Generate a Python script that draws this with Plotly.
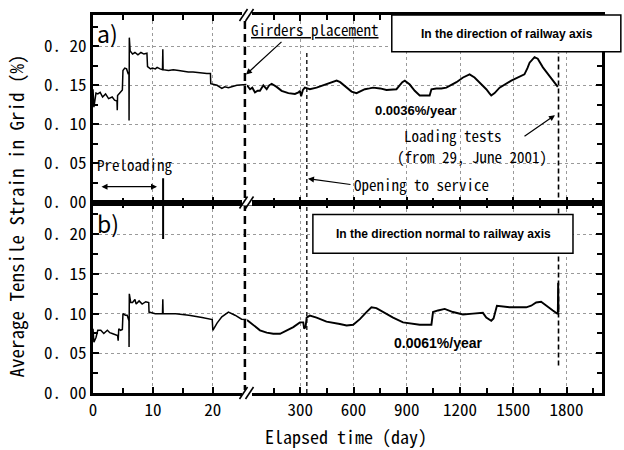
import plotly.graph_objects as go
from plotly.subplots import make_subplots

# ---- (a) strain in the direction of the railway axis ----
# first 25 days (construction / preloading), elapsed time in days
a_days_early = [0, 0.15, 0.5, 0.8, 1.2, 1.6, 2.1, 2.6, 3.2, 3.6, 4.0, 4.05, 4.1, 4.6, 4.9,
                5.0, 5.3, 5.6, 5.9, 6.0, 6.02, 6.06, 6.2, 6.6, 7.0, 7.5, 8.0, 8.5, 9.0,
                9.1, 9.6, 9.9, 10.4, 10.7, 11.2, 11.6, 11.65, 11.7, 12.6, 13.4, 14.3, 15.1,
                15.9, 16.7, 17.6, 18.3, 19.0, 19.6, 19.65, 20.2, 20.7, 21.5, 22.0, 22.6,
                24.0, 25.6]
a_vals_early = [0.145, 0.122, 0.140, 0.139, 0.141, 0.135, 0.139, 0.133, 0.135, 0.131, 0.130,
                0.118, 0.137, 0.141, 0.144, 0.169, 0.172, 0.171, 0.164, 0.165, 0.105, 0.211,
                0.194, 0.190, 0.192, 0.189, 0.192, 0.190, 0.191, 0.174, 0.171, 0.172, 0.171,
                0.173, 0.171, 0.170, 0.196, 0.170, 0.169, 0.170, 0.169, 0.168, 0.167, 0.167,
                0.166, 0.166, 0.165, 0.165, 0.152, 0.151, 0.150, 0.146, 0.148, 0.147, 0.150,
                0.151]
# long-term record after girders placement
a_days_long = [0, 17, 30, 45, 60, 73, 92, 111, 125, 139, 167, 195, 233, 270, 290, 298, 305,
               315, 326, 354, 392, 420, 448, 480, 505, 525, 542, 565, 589, 617, 640, 664,
               690, 711, 750, 786, 842, 861, 875, 889, 903, 917, 945, 973, 1029, 1039, 1067,
               1095, 1123, 1150, 1180, 1217, 1240, 1254, 1282, 1320, 1348, 1365, 1376, 1395,
               1423, 1489, 1563, 1580, 1592, 1620, 1638, 1667, 1704, 1742, 1751]
a_vals_long = [0.150, 0.145, 0.147, 0.141, 0.143, 0.143, 0.150, 0.145, 0.150, 0.152, 0.148,
               0.143, 0.140, 0.139, 0.141, 0.143, 0.136, 0.144, 0.147, 0.145, 0.147, 0.149,
               0.151, 0.154, 0.156, 0.154, 0.151, 0.146, 0.142, 0.140, 0.142, 0.145, 0.146,
               0.147, 0.146, 0.144, 0.145, 0.151, 0.154, 0.156, 0.154, 0.151, 0.143, 0.137,
               0.137, 0.145, 0.146, 0.146, 0.147, 0.150, 0.154, 0.160, 0.162, 0.164, 0.160,
               0.152, 0.145, 0.140, 0.137, 0.140, 0.147, 0.156, 0.164, 0.172, 0.179, 0.186,
               0.184, 0.173, 0.162, 0.152, 0.148]

# ---- (b) strain in the direction normal to the railway axis ----
b_days_early = [0, 0.15, 0.5, 0.8, 1.3, 1.8, 2.4, 2.8, 3.2, 3.7, 4.1, 4.2, 4.3, 4.6, 4.9,
                5.0, 5.4, 5.7, 6.0, 6.02, 6.06, 6.3, 6.6, 7.0, 7.2, 7.7, 8.2, 8.8, 9.3,
                9.35, 10.4, 11.6, 11.65, 11.7, 13.8, 16.0, 18.2, 19.9, 20.0, 20.7, 21.5,
                22.6, 23.7, 24.8, 25.6]
b_vals_early = [0.081, 0.064, 0.070, 0.079, 0.079, 0.075, 0.079, 0.076, 0.075, 0.074, 0.0725,
                0.066, 0.081, 0.079, 0.080, 0.100, 0.098, 0.098, 0.091, 0.058, 0.125, 0.114,
                0.114, 0.118, 0.112, 0.116, 0.112, 0.115, 0.114, 0.102, 0.100, 0.100, 0.118,
                0.100, 0.100, 0.098, 0.095, 0.0925, 0.079, 0.088, 0.096, 0.102, 0.098, 0.093,
                0.0925]
b_days_long = [0, 36, 73, 111, 148, 186, 223, 261, 298, 317, 322, 330, 336, 354, 392, 448,
               523, 561, 598, 636, 673, 701, 729, 767, 823, 879, 917, 973, 1039, 1048, 1076,
               1114, 1160, 1217, 1273, 1329, 1348, 1376, 1389, 1408, 1479, 1535, 1573, 1601,
               1629, 1657, 1685, 1723, 1751, 1753, 1755]
b_vals_long = [0.092, 0.085, 0.079, 0.076, 0.0746, 0.0746, 0.079, 0.083, 0.089, 0.089, 0.081,
               0.083, 0.095, 0.0975, 0.095, 0.090, 0.087, 0.085, 0.086, 0.093, 0.102, 0.108,
               0.107, 0.102, 0.095, 0.089, 0.088, 0.086, 0.086, 0.102, 0.104, 0.106, 0.102,
               0.099, 0.100, 0.101, 0.095, 0.091, 0.094, 0.110, 0.108, 0.108, 0.108, 0.110,
               0.114, 0.115, 0.110, 0.104, 0.0996, 0.139, 0.102]

# ---- axis ticks ----
y_tickvals = [0.0, 0.05, 0.10, 0.15, 0.20]
y_ticktext = ["0. 00", "0. 05", "0. 10", "0. 15", "0. 20"]
y_minor = [0.025, 0.075, 0.125, 0.175, 0.225]
x_early_tickvals = [0, 10, 20]
x_early_ticktext = ["0", "10", "20"]
x_early_minor = [5, 15]
x_long_tickvals = [300, 600, 900, 1200, 1500, 1800]
x_long_ticktext = ["300", "600", "900", "1200", "1500", "1800"]
x_long_minor = [150, 450, 750, 1050, 1350, 1650, 1950]

# events (days)
girders_day = 25.35
opening_day = 337
loading_day = 1755
preload_end_day = 11.7

MONO = "Noto Sans Mono CJK JP, DejaVu Sans Mono, monospace"
SANS = "Liberation Sans, Arial, sans-serif"

fig = make_subplots(rows=2, cols=2, column_widths=[154, 355], row_heights=[189, 192],
                    horizontal_spacing=0, vertical_spacing=0)

early_style = dict(color="black", width=1.5)
long_style = dict(color="black", width=1.9)
fig.add_trace(go.Scatter(x=a_days_early, y=a_vals_early, mode="lines", line=early_style), 1, 1)
fig.add_trace(go.Scatter(x=a_days_long, y=a_vals_long, mode="lines", line=long_style), 1, 2)
fig.add_trace(go.Scatter(x=b_days_early, y=b_vals_early, mode="lines", line=early_style), 2, 1)
fig.add_trace(go.Scatter(x=b_days_long, y=b_vals_long, mode="lines", line=long_style), 2, 2)

grid = dict(showgrid=True, gridcolor="#9a9a9a", griddash="dot", gridwidth=1, zeroline=False)
tick_font = dict(family=MONO, size=17, color="black")

for r in (1, 2):
    fig.update_xaxes(row=r, col=1, range=[0, 25.7], tickmode="array",
                     tickvals=x_early_tickvals, ticktext=x_early_ticktext,
                     ticks="inside", ticklen=6, tickwidth=2, tickcolor="black",
                     minor=dict(tickmode="array", tickvals=x_early_minor, ticks="inside",
                                ticklen=5, tickwidth=2, tickcolor="black", showgrid=False),
                     showline=True, linewidth=3, linecolor="black", mirror="ticks",
                     showticklabels=(r == 2), tickfont=tick_font, **grid)
    fig.update_xaxes(row=r, col=2, range=[0, 2000], tickmode="array",
                     tickvals=x_long_tickvals, ticktext=x_long_ticktext,
                     ticks="inside", ticklen=6, tickwidth=2, tickcolor="black",
                     minor=dict(tickmode="array", tickvals=x_long_minor, ticks="inside",
                                ticklen=5, tickwidth=2, tickcolor="black", showgrid=False),
                     showline=True, linewidth=3, linecolor="black", mirror="ticks",
                     showticklabels=(r == 2), tickfont=tick_font, **grid)
    fig.update_yaxes(row=r, col=1, range=[0, 0.24], tickmode="array",
                     tickvals=y_tickvals, ticktext=y_ticktext,
                     ticks="inside", ticklen=6, tickwidth=2, tickcolor="black",
                     minor=dict(tickmode="array", tickvals=y_minor, ticks="inside",
                                ticklen=5, tickwidth=2, tickcolor="black", showgrid=False),
                     showline=True, linewidth=3, linecolor="black", mirror=False,
                     tickfont=tick_font, **grid)
    fig.update_yaxes(row=r, col=2, range=[0, 0.24], tickmode="array",
                     tickvals=y_tickvals, side="right", showticklabels=False,
                     ticks="inside", ticklen=6, tickwidth=2, tickcolor="black",
                     minor=dict(tickmode="array", tickvals=y_minor, ticks="inside",
                                ticklen=5, tickwidth=2, tickcolor="black", showgrid=False),
                     showline=True, linewidth=3, linecolor="black", mirror=False, **grid)

shapes = [
    # girders placement (thick dashed, at the axis break)
    dict(type="line", xref="x", yref="paper", x0=girders_day, x1=girders_day, y0=0, y1=1,
         line=dict(color="black", width=2.5, dash="8px,5px"), layer="above"),
    # opening to service
    dict(type="line", xref="x2", yref="paper", x0=opening_day, x1=opening_day, y0=0, y1=0.90,
         line=dict(color="black", width=1.3, dash="4px,3px"), layer="above"),
    # loading tests
    dict(type="line", xref="x2", yref="paper", x0=loading_day, x1=loading_day, y0=0.073, y1=0.90,
         line=dict(color="black", width=1.6, dash="5px,3px"), layer="above"),
    # end of preloading marker
    dict(type="line", xref="x", yref="y", x0=preload_end_day, x1=preload_end_day, y0=0, y1=0.031,
         line=dict(color="black", width=2), layer="above"),
    dict(type="line", xref="x3", yref="y3", x0=preload_end_day, x1=preload_end_day, y0=0.194, y1=0.24,
         line=dict(color="black", width=2), layer="above"),
    # label boxes
    dict(type="rect", xref="paper", yref="paper", x0=0.587, x1=1.037, y0=0.903, y1=1.0,
         fillcolor="white", line=dict(color="black", width=1.5), layer="above"),
    dict(type="rect", xref="paper", yref="paper", x0=0.432, x1=0.943, y0=0.370, y1=0.472,
         fillcolor="white", line=dict(color="black", width=1.5), layer="above"),
]

# axis break marks "//" on the horizontal axis lines
bx = 0.3026
px_w, px_h = 509.0, 381.0
for by in (0.0, 0.504, 1.0):
    shapes.append(dict(type="rect", xref="paper", yref="paper",
                       x0=bx - 5 / px_w, x1=bx + 5 / px_w, y0=by - 3 / px_h, y1=by + 3 / px_h,
                       fillcolor="white", line=dict(width=0), layer="above"))
    for off in (-3.5, 2.5):
        shapes.append(dict(type="line", xref="paper", yref="paper",
                           x0=bx + (off - 4) / px_w, x1=bx + (off + 4) / px_w,
                           y0=by - 6 / px_h, y1=by + 6 / px_h,
                           line=dict(color="black", width=1.6), layer="above"))

fig.update_layout(shapes=shapes)

ann = []
def text(x, y, s, size=16, family=MONO, xanchor="left", **kw):
    ann.append(dict(x=x, y=y, xref="paper", yref="paper", text=s, showarrow=False,
                    xanchor=xanchor, yanchor="middle",
                    font=dict(family=family, size=size, color="black"), **kw))

text(0.004, 0.953, "a)", size=23, family="Noto Sans CJK JP, DejaVu Sans")
text(0.004, 0.449, "b)", size=23, family="Noto Sans CJK JP, DejaVu Sans")
text(0.004, 0.604, "Preloading", size=15)
text(0.3065, 0.961, "<u>Girders placement</u>", size=15)
text(0.813, 0.951, "<b>In the direction of railway axis</b>", size=12, family=SANS, xanchor="center")
text(0.688, 0.421, "<b>In the direction normal to railway axis</b>", size=12, family=SANS, xanchor="center")
text(0.6346, 0.748, "<b>0.0036%/year</b>", size=13, family=SANS, xanchor="center")
text(0.678, 0.131, "<b>0.0061%/year</b>", size=14, family=SANS, xanchor="center")
text(0.607, 0.682, "Loading tests", size=15)
text(0.593, 0.625, "(from 29, June 2001)", size=15)
text(0.509, 0.551, "Opening to service", size=15)
text(0.497, -0.113, "Elapsed time (day)", size=18, xanchor="center")
ann.append(dict(x=-0.153, y=0.467, xref="paper", yref="paper", text="Average Tensile Strain in Grid (%)",
                showarrow=False, textangle=-90, xanchor="center", yanchor="middle",
                font=dict(family=MONO, size=19, color="black")))

# arrows
def arrow(x, y, ax, ay, side="end"):
    ann.append(dict(x=x, y=y, xref="paper", yref="paper", ax=ax, ay=ay, text="",
                    showarrow=True, arrowhead=2, arrowsize=1, arrowwidth=1.2,
                    arrowcolor="black", arrowside=side))

arrow((246 - 93) / px_w, (393 - 72) / px_h, 37, -34)
arrow((308 - 93) / px_w, (393 - 177) / px_h, 44, 6)
arrow((555 - 93) / px_w, (393 - 113) / px_h, -32, 22)
arrow((157 - 93) / px_w, (393 - 185) / px_h, -57, 0, side="end+start")

fig.update_layout(annotations=ann, width=624, height=450, showlegend=False,
                  margin=dict(l=93, r=22, t=12, b=57),
                  paper_bgcolor="white", plot_bgcolor="white")

fig.write_html("out.html")
